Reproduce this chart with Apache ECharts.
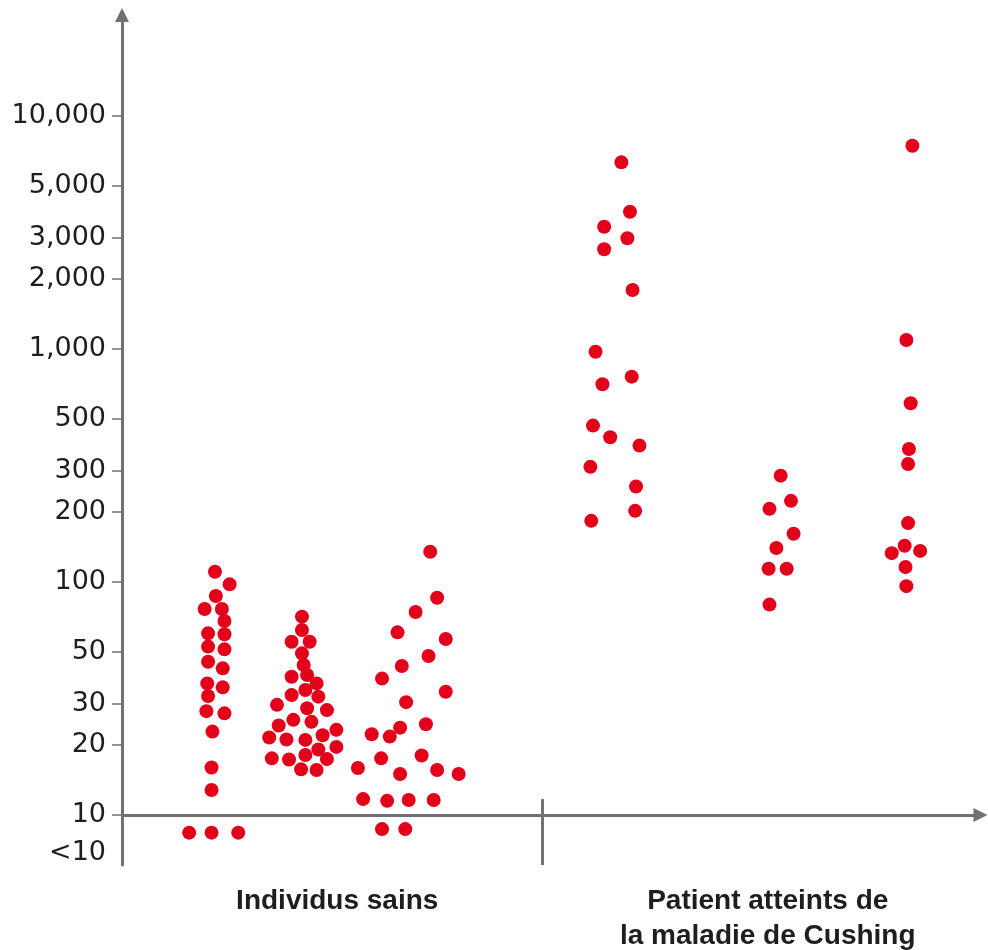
<!DOCTYPE html>
<html>
<head>
<meta charset="utf-8">
<script src="https://cdn.jsdelivr.net/npm/echarts@6/dist/echarts.min.js"></script>
<style>
html,body{margin:0;padding:0;background:#fff;}
#chart{width:988px;height:950px;}
</style>
</head>
<body>
<div id="chart"></div>
<script>
// Category labels
const categories = ['Individus sains', 'Patient atteints de\nla maladie de Cushing'];
// Y tick labels (log scale)
const tickValues = [10, 20, 30, 50, 100, 200, 300, 500, 1000, 2000, 3000, 5000, 10000];
const belowLabelValue = 6.87; // position of the "<10" label

// Healthy individuals, sub-group 1 (x position, value)
const h1X = [10.8,12.5,10.9,9.6,11.6,11.9,10.0,11.9,10.0,11.9,10.0,11.7,9.9,11.7,10.0,9.8,11.9,10.5,10.4,10.4,7.8,10.4,13.5];
const h1Y = [110.7,97.7,87.1,76.6,76.6,68.0,60.2,59.7,52.8,51.4,45.5,42.6,36.7,35.3,32.4,27.9,27.3,22.8,16.0,12.8,8.4,8.4,8.4];
// Healthy individuals, sub-group 2
const h2X = [20.9,20.9,19.7,21.8,20.9,21.1,21.5,19.7,22.6,21.3,19.7,22.8,18.0,21.5,23.8,19.9,22.0,18.2,24.9,23.3,17.1,19.1,21.3,24.9,22.8,21.3,17.4,19.4,23.8,20.8,22.6];
const h2Y = [71.0,62.2,55.4,55.4,49.4,44.0,39.9,39.2,36.7,34.4,32.7,32.2,29.7,28.7,28.2,25.6,25.1,24.2,23.2,22.0,21.5,21.1,21.0,19.6,19.1,18.1,17.5,17.3,17.4,15.7,15.6];
// Healthy individuals, sub-group 3
const h3X = [35.8,36.6,34.1,32.0,37.6,35.6,32.5,30.2,37.6,33.0,35.3,32.3,29.0,31.1,30.1,34.8,27.4,32.3,36.6,39.1,28.0,30.8,33.3,36.2,30.2,32.9];
const h3Y = [134.9,85.6,74.3,60.8,56.9,48.1,43.6,38.5,33.8,30.5,24.5,23.7,22.2,21.7,17.5,18.0,15.9,15.0,15.6,15.0,11.7,11.5,11.6,11.6,8.7,8.7];
// Cushing patients, sub-group 1
const c1X = [58.0,59.0,56.0,58.7,56.0,59.3,55.0,59.2,55.8,54.7,56.7,60.1,54.4,59.7,59.6,54.5];
const c1Y = [6328,3884,3349,2986,2679,1791,974,761,706,469,418,385,312,257,202,183];
// Cushing patients, sub-group 2
const c2X = [76.5,77.7,75.2,78.0,76.0,75.1,77.2,75.2];
const c2Y = [286,223,206,161,140,114,114,80];
// Cushing patients, sub-group 3
const c3X = [91.8,91.1,91.6,91.4,91.3,91.3,90.9,89.4,92.7,91.0,91.1];
const c3Y = [7456,1093,585,372,321,179,143,133,136,116,96];

const groups = [[h1X,h1Y],[h2X,h2Y],[h3X,h3Y],[c1X,c1Y],[c2X,c2Y],[c3X,c3Y]];
const points = [];
groups.forEach(function(g){ g[0].forEach(function(x,i){ points.push([x, g[1][i]]); }); });

const axisGray = '#707075';
const yMin = 6.1, yMax = 27140;
const dividerX = 48.8;

const chart = echarts.init(document.getElementById('chart'), null, {renderer:'canvas'});
chart.setOption({
  animation: false,
  backgroundColor: '#ffffff',
  grid: {left: 122, right: 5, top: 15, bottom: 85, containLabel: false, outerBoundsMode: 'none'},
  xAxis: [
    {type: 'value', min: 0, max: 100, show: false},
    {type: 'category', data: categories, position: 'bottom',
     axisLine: {show: false}, axisTick: {show: false}, splitLine: {show: false},
     axisLabel: {margin: 19, fontFamily: 'Liberation Sans', fontWeight: 'bold', fontSize: 28,
                 color: '#1e1e1e', lineHeight: 35}}
  ],
  yAxis: {
    type: 'log', logBase: 10, min: yMin, max: yMax,
    splitLine: {show: false},
    axisLine: {show: true, lineStyle: {color: axisGray, width: 3},
               symbol: ['none', 'triangle'], symbolSize: [14, 14]},
    axisTick: {show: true, length: 10, inside: false, lineStyle: {color: axisGray, width: 1.5},
               customValues: tickValues},
    axisLabel: {margin: 16, fontFamily: 'DejaVu Sans', fontSize: 27, color: '#1e1e1e',
                customValues: [belowLabelValue].concat(tickValues),
                formatter: function(v){ if (v < 9.5) return '<10'; return Math.round(v).toLocaleString('en-US'); }}
  },
  series: [{
    type: 'scatter',
    xAxisIndex: 0, yAxisIndex: 0,
    data: points,
    symbol: 'circle', symbolSize: 14,
    itemStyle: {color: '#e2001a', opacity: 1},
    z: 3,
    markLine: {
      silent: true, animation: false,
      label: {show: false},
      lineStyle: {color: axisGray, width: 3, type: 'solid'},
      symbol: ['none', 'triangle'], symbolSize: [14, 14],
      data: [
        [{coord: [0, 10]}, {coord: [99.7, 10]}],
        [{coord: [dividerX, 11.7], symbol: 'none'}, {coord: [dividerX, yMin], symbol: 'none'}]
      ],
      z: 2
    }
  }]
});
</script>
</body>
</html>
